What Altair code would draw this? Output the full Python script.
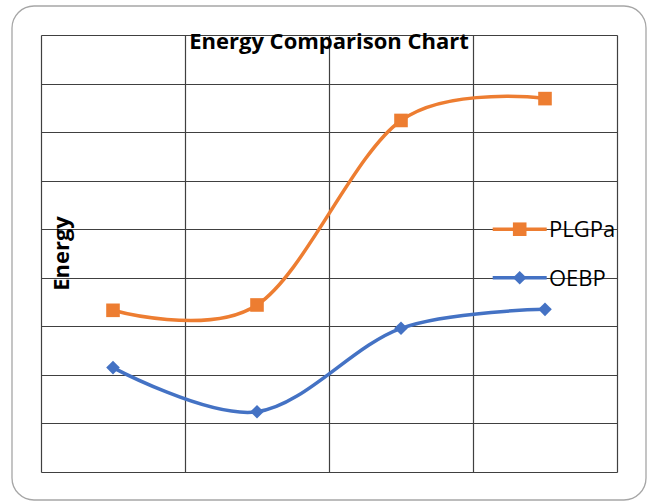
import altair as alt
import pandas as pd

# ---- data ----
series = ["PLGPa", "OEBP"]
x_pos = [0.5, 1.5, 2.5, 3.5]
plgpa = [3.33, 3.44, 7.24, 7.69]
oebp = [2.15, 1.24, 2.96, 3.35]
colors = ["#ED7D31", "#4472C4"]
shapes = ["square", "diamond"]
legend_rows = [5, 4]          # grid rows on which the legend entries sit
title_text = "Energy Comparison Chart"
y_title = "Energy"

rows = []
for xv, v in zip(x_pos, plgpa):
    rows.append({"x": xv, "y": v, "series": "PLGPa"})
for xv, v in zip(x_pos, oebp):
    rows.append({"x": xv, "y": v, "series": "OEBP"})
df = pd.DataFrame(rows)
leg_df = pd.DataFrame({"series": series, "row": legend_rows})

FONT = "Open Sans"

color_scale = alt.Scale(domain=series, range=colors)
shape_scale = alt.Scale(domain=series, range=shapes)

x_enc = alt.X("x:Q", scale=alt.Scale(domain=[0, 4], nice=False, zero=False),
              axis=alt.Axis(values=[0, 1, 2, 3, 4], labels=False, ticks=False, domain=False,
                            grid=True, gridColor="#404040", gridWidth=1.2, gridOpacity=1, title=None))
y_enc = alt.Y("y:Q", scale=alt.Scale(domain=[0, 9], nice=False),
              axis=alt.Axis(values=list(range(10)), labels=False, ticks=False, domain=False,
                            grid=True, gridColor="#404040", gridWidth=1.2, gridOpacity=1,
                            title=y_title, titleFont=FONT, titleFontSize=22, titleFontWeight="bold",
                            titleColor="black", titleAngle=270, titleX=27, titleY=218,
                            titleAlign="center", titleBaseline="alphabetic"))

base = alt.Chart(df)

frame = alt.Chart(pd.DataFrame({"a": [0]})).mark_rect(
    cornerRadius=22, fillOpacity=0, stroke="#A6A6A6", strokeWidth=1.3, clip=False
).encode(x=alt.value(-29), x2=alt.value(605), y=alt.value(-29), y2=alt.value(465))

title = alt.Chart(pd.DataFrame({"t": [title_text]})).mark_text(
    font=FONT, fontSize=22, fontWeight="bold", color="black", align="center", baseline="alphabetic"
).encode(text="t:N", x=alt.value(288), y=alt.value(14))

lines = base.mark_line(interpolate="cardinal", strokeWidth=3.5).encode(
    x=x_enc, y=y_enc,
    color=alt.Color("series:N", scale=color_scale, legend=None),
    detail="series:N",
)

points = base.mark_point(filled=True, opacity=1, size=185).encode(
    x="x:Q", y="y:Q",
    color=alt.Color("series:N", scale=color_scale, legend=None),
    shape=alt.Shape("series:N", scale=shape_scale, legend=None),
)

# legend drawn inside the plot, as in the reference
leg_base = alt.Chart(leg_df)
leg_line = leg_base.mark_rule(strokeWidth=3.5).encode(
    x=alt.value(451.7), x2=alt.value(505.7), y="row:Q",
    color=alt.Color("series:N", scale=color_scale, legend=None),
)
leg_pt = leg_base.mark_point(filled=True, opacity=1, size=185).encode(
    x=alt.value(478.7), y="row:Q",
    color=alt.Color("series:N", scale=color_scale, legend=None),
    shape=alt.Shape("series:N", scale=shape_scale, legend=None),
)
leg_txt = leg_base.mark_text(font=FONT, fontSize=22, color="black", align="left",
                             baseline="middle", dy=1).encode(
    x=alt.value(508), y="row:Q", text="series:N",
)

chart = alt.layer(frame, lines, points, leg_line, leg_pt, leg_txt, title).properties(
    width=576, height=437,
    padding={"left": 41, "top": 35, "right": 35, "bottom": 29},
    autosize=alt.AutoSizeParams(type="none"),
).configure_view(stroke="#303030", strokeWidth=1.5).configure(background="white")

chart.save("out.html", embed_options={"renderer": "svg", "actions": False})
